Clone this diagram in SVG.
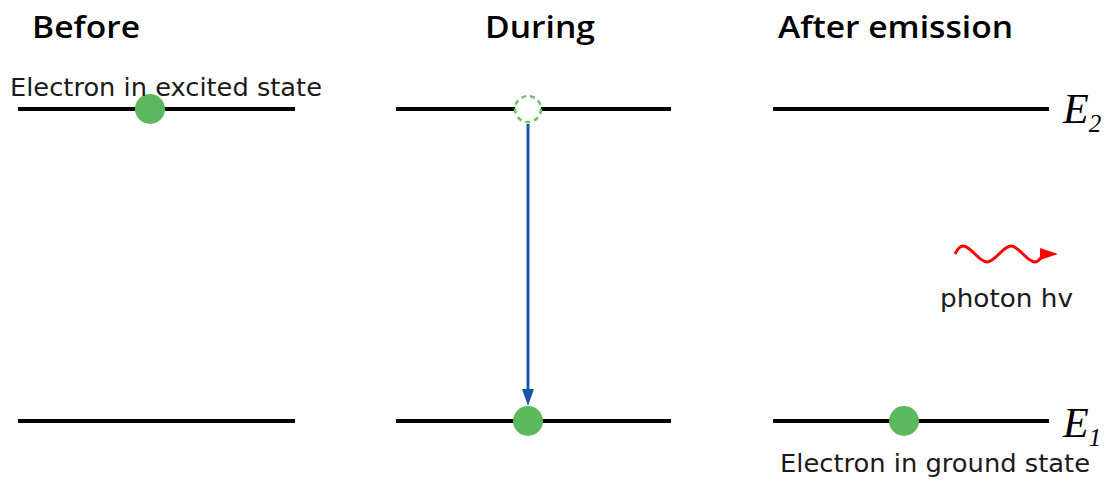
<svg xmlns="http://www.w3.org/2000/svg" width="1113" height="484" viewBox="0 0 1113 484">
<defs>
<style>
.lvl{stroke:#000;stroke-width:4;fill:none}
.title{font-family:"Open Sans","DejaVu Sans",sans-serif;font-size:30px;font-weight:600;fill:#000}
.lab{font-family:"DejaVu Sans",sans-serif;font-size:24px;fill:#1a1a1a}
.e{font-family:"Liberation Serif",serif;font-style:italic;fill:#000}
.el{fill:#5cb85c}
</style>
</defs>
<g id="titles">
<text class="title" x="32" y="38" textLength="108" lengthAdjust="spacingAndGlyphs">Before</text>
<text class="title" x="485" y="38" textLength="110" lengthAdjust="spacingAndGlyphs">During</text>
<text class="title" x="778" y="38" textLength="235" lengthAdjust="spacingAndGlyphs">After emission</text>
</g>
<g id="levels">
<line class="lvl" x1="18" y1="109" x2="295" y2="109"/>
<line class="lvl" x1="18" y1="421" x2="295" y2="421"/>
<line class="lvl" x1="396" y1="109" x2="671" y2="109"/>
<line class="lvl" x1="396" y1="421" x2="671" y2="421"/>
<line class="lvl" x1="773" y1="109" x2="1049" y2="109"/>
<line class="lvl" x1="773" y1="421" x2="1049" y2="421"/>
</g>
<g id="connectors">
<line x1="528" y1="124" x2="528" y2="392" stroke="#1a56a8" stroke-width="3"/>
<path d="M522,389 L534,389 L528,406 Z" fill="#1a56a8"/>
</g>
<g id="electron-before"><circle class="el" cx="150" cy="109" r="15"/></g>
<g id="electron-during-upper"><circle cx="528" cy="109" r="13" fill="#fff" stroke="#6cc06c" stroke-width="2.5" stroke-dasharray="5,4"/></g>
<g id="electron-during-lower"><circle class="el" cx="528" cy="421" r="15"/></g>
<g id="electron-after"><circle class="el" cx="904" cy="421" r="15"/></g>
<g id="photon">
<path d="M955,254 Q959,246 963,246 T975,254 T987,262 T999,254 T1011,246 T1023,254 T1035,262 Q1039,262 1043,254 L1044,254" fill="none" stroke="#f00" stroke-width="3"/>
<path d="M1040,248 L1058,254 L1040,260 Z" fill="#f00"/>
<text class="lab" x="940" y="307" textLength="133" lengthAdjust="spacingAndGlyphs">photon hv</text>
</g>
<g id="labels">
<text class="lab" x="10" y="96" textLength="312" lengthAdjust="spacingAndGlyphs">Electron in excited state</text>
<text class="lab" x="780" y="472" textLength="310" lengthAdjust="spacingAndGlyphs">Electron in ground state</text>
<text class="e" x="1063" y="123" font-size="42">E<tspan font-size="25" dy="9">2</tspan></text>
<text class="e" x="1063" y="437" font-size="42">E<tspan font-size="25" dy="9">1</tspan></text>
</g>
</svg>
